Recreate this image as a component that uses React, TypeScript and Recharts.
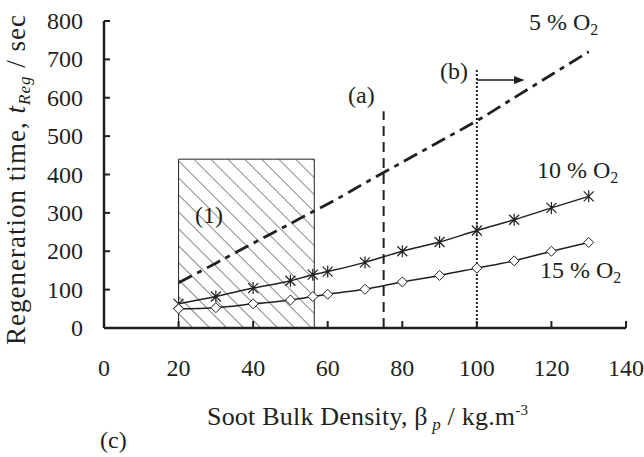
import React from "react";
import {
  LineChart,
  Line,
  XAxis,
  YAxis,
  ReferenceArea,
  ReferenceLine,
} from "recharts";

// soot bulk density, kg/m3
const densities = [20, 30, 40, 50, 56, 60, 70, 80, 90, 100, 110, 120, 130];
// regeneration time, sec
const o2Five = [118, 169, 221, 272, 303, 323, 378, 432, 486, 540, 600, 660, 720];
const o2Ten = [63, 82, 104, 123, 139, 147, 171, 200, 224, 254, 282, 313, 343];
const o2Fifteen = [50, 53, 63, 73, 82, 88, 101, 120, 137, 156, 175, 200, 223];

const xTicks = [0, 20, 40, 60, 80, 100, 120, 140];
const yTicks = [0, 100, 200, 300, 400, 500, 600, 700, 800];

// hatched region (1) and the two limit lines
const regionOne = { x1: 20, x2: 56.4, y1: 0, y2: 440 };
const limitA = { x: 75, top: 565 };
const limitB = { x: 100, top: 674 };
const arrowB = { y: 646, xEnd: 112.4 };

const data = densities.map((x, i) => ({
  x,
  five: o2Five[i],
  ten: o2Ten[i],
  fifteen: o2Fifteen[i],
}));

const INK = "#231f20";
const FONT = "'Liberation Serif', 'Times New Roman', serif";

function StarDot(props: any) {
  const { cx, cy, index } = props;
  if (cx == null || cy == null) return <g key={`s${index}`} />;
  const r = 5;
  return (
    <path
      key={`s${index}`}
      d={`M${cx - r},${cy - r}L${cx + r},${cy + r}M${cx - r},${cy + r}L${cx + r},${cy - r}M${cx},${cy - r - 1}L${cx},${cy + r + 1}`}
      stroke={INK}
      strokeWidth={1.2}
      fill="none"
    />
  );
}

function DiamondDot(props: any) {
  const { cx, cy, index } = props;
  if (cx == null || cy == null) return <g key={`d${index}`} />;
  const r = 5;
  return (
    <path
      key={`d${index}`}
      d={`M${cx},${cy - r}L${cx + r},${cy}L${cx},${cy + r}L${cx - r},${cy}Z`}
      stroke={INK}
      strokeWidth={1}
      fill="#fff"
    />
  );
}

function YTick(props: any) {
  const { x, y, payload } = props;
  return (
    <text
      x={x}
      y={y}
      textAnchor="end"
      dominantBaseline="central"
      fill={INK}
      fontSize={24}
      fontFamily={FONT}
    >
      {payload.value}
    </text>
  );
}

export default function App() {
  return (
    <div style={{ position: "absolute", left: 0, top: 0, background: "#fff" }}>
      <LineChart
        width={644}
        height={457}
        data={data}
        margin={{ top: 21, right: 18, bottom: 128, left: 103 }}
        style={{ fontFamily: FONT }}
      >
        <defs>
          <pattern
            id="hatch"
            patternUnits="userSpaceOnUse"
            width={12}
            height={12}
            patternTransform="rotate(-45)"
          >
            <line x1={0} y1={0} x2={0} y2={12} stroke="#111" strokeWidth={1} />
          </pattern>
          <marker
            id="arrowHead"
            markerUnits="userSpaceOnUse"
            markerWidth={10}
            markerHeight={8}
            refX={9}
            refY={4}
            orient="auto"
          >
            <path d="M0,0L10,4L0,8Z" fill={INK} />
          </marker>
        </defs>
        <XAxis
          dataKey="x"
          type="number"
          domain={[0, 140]}
          ticks={xTicks}
          height={1}
          tickSize={-7}
          tickMargin={38}
          interval={0}
          axisLine={{ stroke: INK, strokeWidth: 2.5 }}
          tickLine={{ stroke: INK, strokeWidth: 2 }}
          tick={{ fill: INK, fontSize: 24, fontFamily: FONT }}
        />
        <YAxis
          type="number"
          domain={[0, 800]}
          ticks={yTicks}
          width={1}
          tickSize={-6}
          tickMargin={27}
          interval={0}
          axisLine={{ stroke: INK, strokeWidth: 2.5 }}
          tickLine={{ stroke: INK, strokeWidth: 2 }}
          tick={YTick}
        />
        <ReferenceArea
          x1={regionOne.x1}
          x2={regionOne.x2}
          y1={regionOne.y1}
          y2={regionOne.y2}
          fill="url(#hatch)"
          fillOpacity={1}
          stroke="#222"
          strokeWidth={1}
        />
        <ReferenceLine
          segment={[
            { x: limitA.x, y: 0 },
            { x: limitA.x, y: limitA.top },
          ]}
          stroke={INK}
          strokeWidth={2}
          strokeDasharray="10 6"
        />
        <ReferenceLine
          segment={[
            { x: limitB.x, y: 0 },
            { x: limitB.x, y: limitB.top },
          ]}
          stroke={INK}
          strokeWidth={2}
          strokeDasharray="2 2"
        />
        <ReferenceLine
          segment={[
            { x: limitB.x, y: arrowB.y },
            { x: arrowB.xEnd, y: arrowB.y },
          ]}
          stroke={INK}
          strokeWidth={1.5}
          markerEnd="url(#arrowHead)"
        />
        <Line
          dataKey="five"
          type="monotone"
          stroke={INK}
          strokeWidth={2.8}
          strokeDasharray="15 6 5 6"
          dot={false}
          isAnimationActive={false}
        />
        <Line
          dataKey="ten"
          type="monotone"
          stroke={INK}
          strokeWidth={1.5}
          dot={StarDot}
          isAnimationActive={false}
        />
        <Line
          dataKey="fifteen"
          type="monotone"
          stroke={INK}
          strokeWidth={1.5}
          dot={DiamondDot}
          isAnimationActive={false}
        />
        <g fill={INK} fontFamily={FONT} fontSize={24}>
          <text x={529} y={30}>
            5 % O<tspan fontSize={16} dy={5}>2</tspan>
          </text>
          <text x={537} y={178}>
            10 % O<tspan fontSize={16} dy={5}>2</tspan>
          </text>
          <text x={540} y={278}>
            15 % O<tspan fontSize={16} dy={5}>2</tspan>
          </text>
          <text x={195} y={223}>(1)</text>
          <text x={348} y={103}>(a)</text>
          <text x={440} y={79}>(b)</text>
          <text x={100} y={448}>(c)</text>
          <text x={207} y={425} fontSize={26} textLength={321} lengthAdjust="spacing">
            Soot Bulk Density, β
            <tspan fontStyle="italic" fontSize={17} dy={5}> p</tspan>
            <tspan dy={-5}> / kg.m</tspan>
            <tspan fontSize={15} dy={-10}>-3</tspan>
          </text>
          <text
            x={-345}
            y={25}
            fontSize={27}
            textLength={330}
            lengthAdjust="spacing"
            transform="rotate(-90)"
          >
            Regeneration time,{" "}
            <tspan fontStyle="italic">t</tspan>
            <tspan fontStyle="italic" fontSize={17} dy={5}>Reg</tspan>
            <tspan dy={-5}> / sec</tspan>
          </text>
        </g>
      </LineChart>
    </div>
  );
}
